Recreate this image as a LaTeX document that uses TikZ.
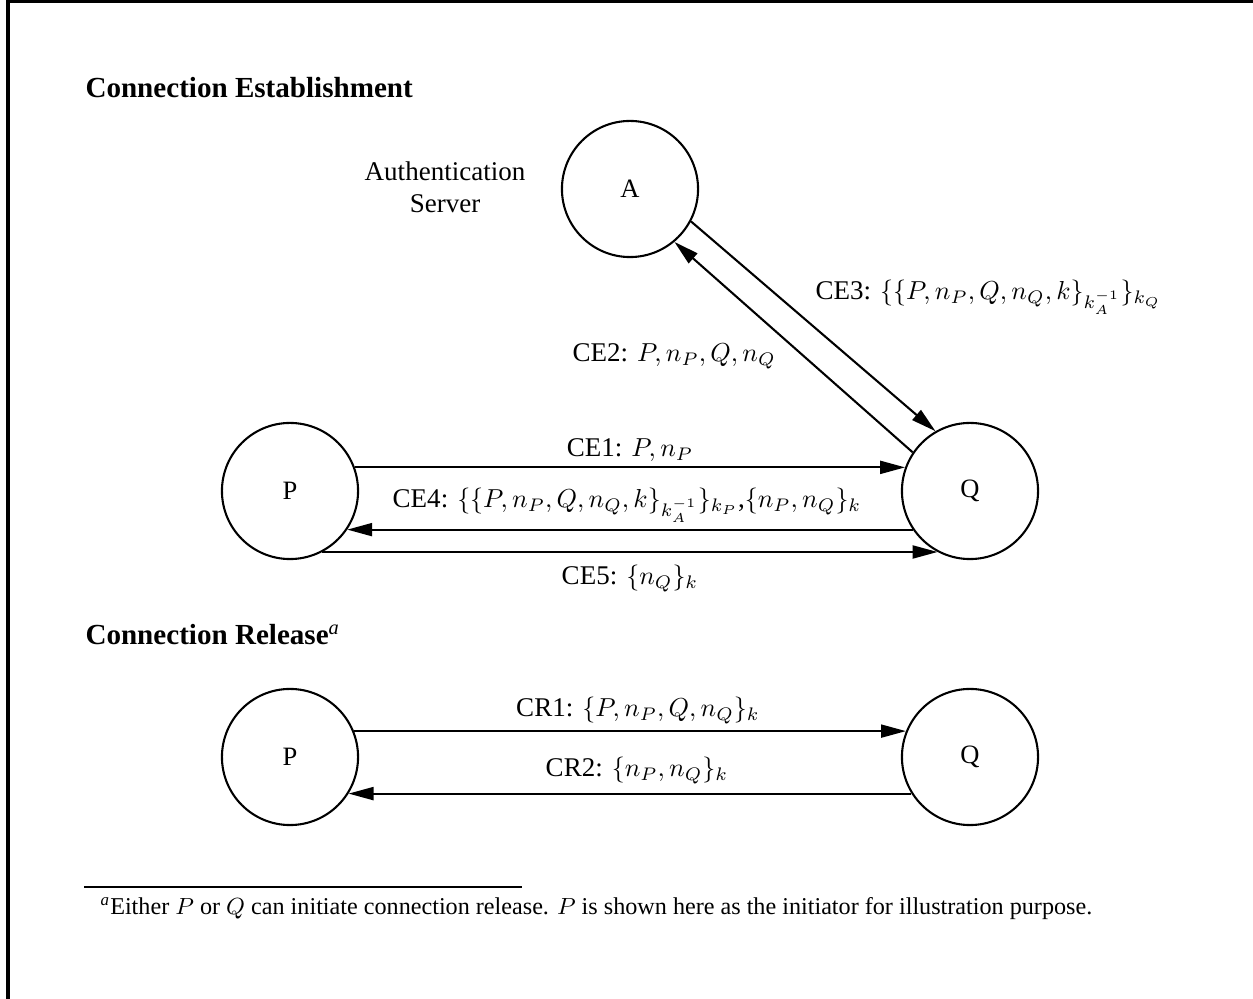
\documentclass[tikz,border=0pt]{standalone}
\usepackage{fontspec}
\setmainfont{Liberation Serif}
\usetikzlibrary{arrows.meta}

\begin{document}
\begin{tikzpicture}[x=0.385pt,y=-0.385pt,
    party/.style={draw,circle,line width=0.8pt,minimum size=52.4pt,inner sep=0pt,font=\fontsize{10.2}{12}\selectfont},
    msg/.style={line width=0.8pt,-{Triangle[length=9.6pt,width=5pt]}},
    lbl/.style={font=\fontsize{10.4}{12.7}\selectfont,inner sep=0pt},
    head/.style={font=\fontsize{11.2}{13}\selectfont\bfseries,inner sep=0pt,anchor=base west}]
        \useasboundingbox (0,0) rectangle (1253,999);
        \draw[line width=1.5pt] (8,999) -- (8,1.5) -- (1253,1.5);
        % connection establishment
        \node[head] (hce) at (85,98) {Connection Establishment};
        \node[party] (nA) at (630,189) {A};
        \node[party] (nP) at (290,491) {P};
        \node[party] (nQ) at (970,491) {Q};
        \node[lbl,align=center,anchor=base] (srv) at (445,213) {Authentication\\Server};
        \draw[msg] (nP.20) -- (nQ.160);
        \draw[msg] (nQ.146) -- (nA.-50);
        \draw[msg] (nA.-28) -- (nQ.120);
        \draw[msg] (nQ.214) -- (nP.-34);
        \draw[msg] (nP.-62) -- (nQ.242);
        \node[lbl,anchor=base] (ce1) at (630,457) {CE1: $P, n_P$};
        \node[lbl,anchor=base west] (ce2) at (572,362) {CE2: $P, n_P, Q, n_Q$};
        \node[lbl,anchor=base west] (ce3) at (815,300) {CE3: $\{\{P, n_P, Q, n_Q, k\}_{k_A^{-1}}\}_{k_Q}$};
        \node[lbl,anchor=base] (ce4) at (627,508) {CE4: $\{\{P, n_P, Q, n_Q, k\}_{k_A^{-1}}\}_{k_P}$,$\{n_P, n_Q\}_k$};
        \node[lbl,anchor=base] (ce5) at (630,585) {CE5: $\{n_Q\}_k$};
        % connection release
        \node[head] (hcr) at (85,645) {Connection Release\textsuperscript{\normalfont\itshape a}};
        \node[party] (rP) at (290,757) {P};
        \node[party] (rQ) at (970,757) {Q};
        \draw[msg] (rP.22) -- (rQ.158);
        \draw[msg] (rQ.212) -- (rP.-32);
        \node[lbl,anchor=base] (cr1) at (638,717) {CR1: $\{P, n_P, Q, n_Q\}_k$};
        \node[lbl,anchor=base] (cr2) at (637,777) {CR2: $\{n_P, n_Q\}_k$};
        % footnote
        \draw[line width=0.8pt] (84,887) -- (522,887);
        \node[lbl,anchor=base west,font=\fontsize{9.3}{11}\selectfont] (fn) at (100,915)
          {\textsuperscript{\itshape a}Either $P$ or $Q$ can initiate connection release. $P$ is shown here as the initiator for illustration purpose.};
\end{tikzpicture}
\end{document}
